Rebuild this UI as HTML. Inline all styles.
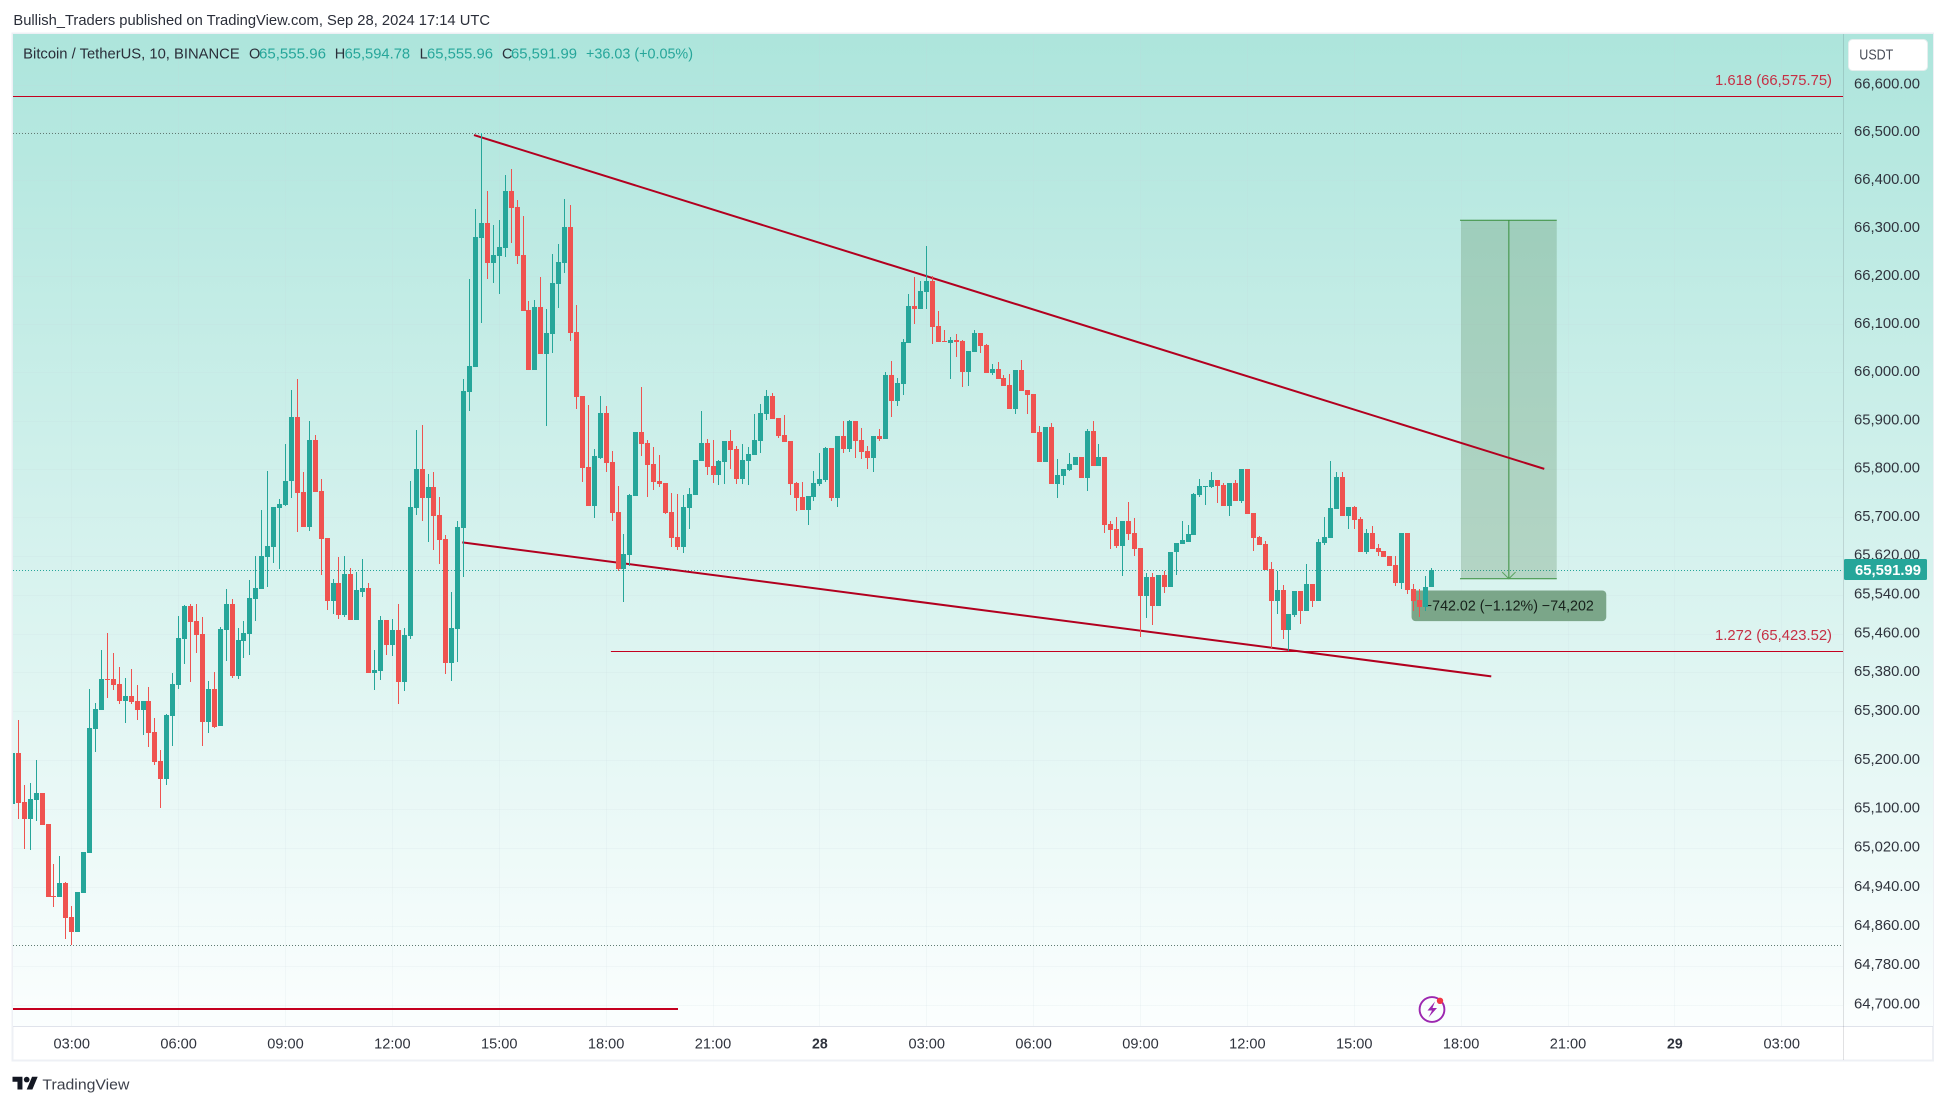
<!DOCTYPE html>
<html lang="en">
<head>
<meta charset="utf-8">
<title>BTCUSDT 10m chart</title>
<style>
html,body{margin:0;padding:0;background:#fff;}
svg{display:block;}
text{font-family:"Liberation Sans",sans-serif;}
</style>
</head>
<body>
<svg id="chart" xmlns="http://www.w3.org/2000/svg" width="1946" height="1105" viewBox="0 0 1946 1105">
  <defs>
    <linearGradient id="bgGrad" x1="0" y1="34" x2="0" y2="1026" gradientUnits="userSpaceOnUse">
      <stop offset="0" stop-color="#ade5dc"/>
      <stop offset="1" stop-color="#fbfefe"/>
    </linearGradient>
    <clipPath id="paneClip"><rect x="13" y="34" width="1830" height="992"/></clipPath>
  </defs>
  <rect x="0" y="0" width="1946" height="1105" fill="#ffffff"/>
  <text x="13.4" y="25" font-size="14.5" fill="#2a2e39" textLength="476.6" lengthAdjust="spacingAndGlyphs">Bullish_Traders published on TradingView.com, Sep 28, 2024 17:14 UTC</text>

  <rect x="12.5" y="33.5" width="1920.5" height="1027" fill="#ffffff" stroke="#eef0f5" stroke-width="2"/>
  <rect x="13" y="34" width="1920" height="992" fill="url(#bgGrad)"/>

  <g id="gridLayer"></g>

  <g clip-path="url(#paneClip)">
    <g id="drawLayer"></g>
    <g id="candleLayer"></g>
  </g>

  <line x1="13" x2="1933" y1="1026.5" y2="1026.5" stroke="#e0e3eb" stroke-width="1"/>
  <line x1="1843.5" x2="1843.5" y1="34" y2="1060" stroke="#2a2e39" stroke-opacity="0.14" stroke-width="1"/>

  <g id="axisLayer"></g>

  <rect x="1844" y="559" width="83" height="21" rx="1.5" fill="#26a69a"/>
  <text x="1855" y="575" font-size="14.5" font-weight="bold" fill="#ffffff" textLength="66" lengthAdjust="spacingAndGlyphs">65,591.99</text>

  <rect x="1848.5" y="39.5" width="79" height="31" rx="4" fill="#ffffff" stroke="#e6eeee"/>
  <text x="1859.3" y="59.5" font-size="14.5" fill="#4a4e59" textLength="34" lengthAdjust="spacingAndGlyphs">USDT</text>

  <g font-size="14.5">
    <text x="23.2" y="58.5" fill="#2a2e39" textLength="216.5" lengthAdjust="spacingAndGlyphs">Bitcoin / TetherUS, 10, BINANCE</text>
    <text x="249" y="58.5" fill="#2a2e39">O</text>
    <text x="259" y="58.5" fill="#26a69a" textLength="67" lengthAdjust="spacingAndGlyphs">65,555.96</text>
    <text x="334.8" y="58.5" fill="#2a2e39">H</text>
    <text x="344.6" y="58.5" fill="#26a69a" textLength="65.5" lengthAdjust="spacingAndGlyphs">65,594.78</text>
    <text x="419.6" y="58.5" fill="#2a2e39">L</text>
    <text x="427" y="58.5" fill="#26a69a" textLength="66" lengthAdjust="spacingAndGlyphs">65,555.96</text>
    <text x="502" y="58.5" fill="#2a2e39">C</text>
    <text x="511" y="58.5" fill="#26a69a" textLength="66" lengthAdjust="spacingAndGlyphs">65,591.99</text>
    <text x="586" y="58.5" fill="#26a69a" textLength="107" lengthAdjust="spacingAndGlyphs">+36.03 (+0.05%)</text>
  </g>

  <g>
    <circle cx="1432" cy="1009.5" r="12.4" fill="none" stroke="#9c27b0" stroke-width="1.9"/>
    <path d="M1435 1001.5 L1427.5 1010.5 L1432 1010.5 L1428.5 1017.5 L1437 1008 L1432.5 1008 Z" fill="#9c27b0"/>
    <circle cx="1440" cy="1000.8" r="3.2" fill="#f23645"/>
  </g>

  <g>
    <g transform="translate(12.5 1073.9) scale(0.71)">
      <path d="M14 22H7V11H0V4h14v18zM28 22h-8l7.5-18h8L28 22z" fill="#131722"/>
      <circle cx="20" cy="8" r="4" fill="#131722"/>
    </g>
    <text x="42.4" y="1089.5" font-size="15" fill="#3b3f4a" textLength="87" lengthAdjust="spacingAndGlyphs">TradingView</text>
  </g>
</svg>

<script>
const opens = [65110,65215,65114,65079,65118,65133,65069,64922,64920,64949,
64879,64849,64928,65010,65264,65303,65366,65366,65356,65321,
65331,65321,65303,65321,65258,65198,65161,65290,65354,65449,
65517,65486,65459,65278,65346,65270,65467,65521,65373,65445,
65459,65531,65552,65618,65639,65719,65725,65775,65907,65752,
65680,65860,65754,65657,65527,65564,65498,65583,65488,65546,
65554,65379,65383,65488,65436,65467,65360,65455,65719,65800,
65740,65762,65705,65655,65399,65469,65678,65959,66011,66280,
66311,66228,66242,66259,66378,66344,66244,66130,66005,66136,
66038,66080,66184,66228,66302,66084,65951,65804,65723,65823,
65915,65814,65711,65593,65622,65744,65876,65854,65810,65775,
65771,65711,65659,65638,65719,65746,65816,65854,65806,65787,
65814,65858,65841,65779,65816,65829,65858,65913,65951,65905,
65870,65858,65771,65742,65715,65742,65769,65777,65843,65740,
65868,65841,65899,65860,65837,65823,65868,65862,65995,65941,
65976,66061,66138,66132,66167,66190,66096,66065,66061,66067,
66065,66001,66042,66082,66057,65999,66007,65988,65973,65924,
66005,65963,65955,65876,65814,65887,65769,65785,65798,65808,
65825,65781,65878,65806,65825,65686,65676,65641,65692,65667,
65636,65537,65577,65517,65581,65556,65628,65645,65649,65663,
65746,65762,65762,65777,65767,65723,65771,65733,65800,65709,
65659,65645,65593,65527,65550,65467,65498,65548,65507,65562,
65527,65647,65657,65717,65783,65702,65721,65696,65628,65667,
65636,65630,65620,65601,65564,65667,65552,65529,65515,65555.96];

const highs = [65215,65282,65149,65153,65200,65133,65069,64987,65004,64950,
64901,64930,65012,65345,65317,65426,65461,65420,65391,65368,
65387,65354,65321,65350,65286,65221,65295,65379,65496,65519,
65521,65521,65494,65362,65381,65474,65552,65531,65471,65486,
65570,65620,65715,65796,65721,65738,65852,65963,65986,65793,
65899,65870,65779,65657,65572,65618,65620,65595,65587,65614,
65564,65426,65496,65488,65490,65521,65471,65775,65881,65891,
65789,65793,65742,65663,65546,65692,65986,66194,66340,66499,
66378,66307,66317,66411,66424,66359,66325,66148,66150,66198,
66132,66246,66267,66361,66348,66140,65951,65932,65841,65951,
65930,65837,65764,65665,65748,65876,65969,65860,65845,65829,
65771,65750,65748,65746,65760,65818,65920,65862,65860,65818,
65858,65881,65847,65852,65845,65913,65934,65963,65957,65905,
65911,65858,65773,65773,65744,65796,65833,65845,65843,65868,
65899,65901,65899,65885,65847,65868,65883,66001,66024,65988,
66069,66163,66198,66190,66263,66200,66128,66088,66073,66080,
66067,66044,66088,66082,66059,66017,66022,65995,65997,66005,
66026,65963,65955,65889,65887,65895,65820,65800,65833,65825,
65825,65883,65899,65852,65825,65692,65700,65692,65731,65698,
65636,65585,65585,65581,65589,65628,65647,65692,65684,65750,
65779,65764,65793,65777,65771,65771,65777,65800,65800,65709,
65661,65651,65608,65589,65560,65500,65548,65548,65603,65562,
65655,65700,65816,65793,65793,65721,65723,65700,65676,65682,
65645,65630,65620,65620,65667,65667,65562,65552,65579,65594.78];

const lows = [65110,65079,65018,65016,65075,65067,64920,64899,64920,64834,
64822,64849,64928,65010,65217,65303,65327,65344,65315,65276,
65315,65282,65252,65227,65190,65102,65149,65229,65346,65397,
65360,65420,65229,65256,65266,65270,65403,65369,65366,65410,
65416,65486,65552,65556,65606,65593,65723,65740,65669,65680,
65672,65752,65581,65509,65500,65490,65494,65488,65488,65535,
65379,65344,65364,65416,65414,65315,65342,65449,65705,65692,
65649,65632,65603,65377,65362,65401,65577,65920,66011,66103,
66194,66186,66163,66240,66269,66225,66128,66005,66005,66038,
65889,66040,66134,66207,66065,65924,65773,65723,65698,65821,
65793,65692,65589,65525,65599,65744,65827,65742,65756,65762,
65707,65638,65632,65626,65676,65746,65816,65787,65771,65767,
65769,65800,65769,65769,65767,65829,65833,65901,65903,65864,
65856,65746,65713,65715,65684,65733,65764,65773,65733,65721,
65833,65835,65823,65821,65800,65793,65858,65862,65907,65930,
65953,66061,66101,66132,66132,66059,66063,66063,65986,66032,
65969,65971,66042,66040,65999,65995,65986,65971,65924,65913,
65961,65913,65874,65814,65814,65769,65740,65767,65796,65808,
65781,65754,65806,65806,65667,65634,65636,65579,65653,65620,
65453,65492,65478,65517,65544,65556,65581,65645,65649,65663,
65742,65725,65760,65729,65723,65702,65733,65729,65707,65630,
65643,65591,65430,65500,65449,65424,65494,65480,65507,65515,
65527,65643,65657,65717,65702,65676,65676,65628,65624,65634,
65620,65618,65599,65558,65552,65542,65507,65494,65507,65555.96];

const closes = [65215,65112,65079,65120,65133,65067,64920,64920,64949,64877,
64849,64930,65012,65266,65304,65366,65364,65354,65321,65331,
65319,65303,65321,65256,65196,65161,65293,65356,65451,65517,
65484,65457,65278,65346,65268,65469,65521,65373,65447,65461,
65533,65554,65620,65641,65721,65727,65775,65907,65750,65680,
65860,65752,65655,65527,65564,65498,65583,65488,65550,65554,
65379,65385,65488,65436,65467,65360,65457,65721,65800,65740,
65762,65702,65653,65399,65471,65680,65961,66013,66282,66311,
66228,66244,66261,66378,66342,66242,66128,66005,66136,66038,
66082,66186,66230,66302,66082,65949,65802,65723,65827,65915,
65812,65709,65593,65624,65746,65876,65852,65808,65773,65769,
65709,65657,65638,65721,65748,65818,65854,65804,65787,65816,
65858,65839,65779,65818,65831,65860,65915,65951,65903,65868,
65856,65769,65740,65715,65744,65771,65779,65843,65740,65868,
65841,65899,65858,65835,65823,65868,65862,65995,65941,65978,
66063,66138,66132,66169,66190,66094,66063,66063,66067,66063,
66001,66044,66082,66055,65999,66007,65986,65971,65924,66005,
65961,65953,65874,65814,65887,65769,65787,65800,65810,65825,
65781,65878,65806,65825,65684,65674,65641,65692,65665,65634,
65537,65577,65517,65581,65556,65628,65647,65653,65665,65748,
65764,65764,65777,65764,65723,65771,65733,65800,65707,65657,
65643,65591,65527,65550,65467,65500,65548,65507,65562,65527,
65649,65659,65719,65783,65702,65721,65694,65628,65667,65634,
65628,65618,65599,65564,65667,65550,65527,65515,65556,65591.99];

const priceTicks = [66600,66500,66400,66300,66200,66100,66000,65900,65800,65700,65620,65540,65460,65380,65300,65200,65100,65020,64940,64860,64780,64700];
const timeTickLabels = ["03:00","06:00","09:00","12:00","15:00","18:00","21:00","28","03:00","06:00","09:00","12:00","15:00","18:00","21:00","29","03:00"];
const fibLevels = [66575.75, 65423.52];
const fibLabels = ["1.618 (66,575.75)", "1.272 (65,423.52)"];
const dottedLevels = [66498.5, 65591.99, 64821];
const upperTrendBars = [77.74, 258];
const upperTrendPrices = [66494.7, 65800];
const lowerTrendBars = [75.77, 249.07];
const lowerTrendPrices = [65648, 65372];
const floorLineBars = [-0.1, 112.1];
const floorLinePrice = 64691.4;
const rangeBars = [243.97, 260.1];
const rangePrices = [66316.6, 65573];
const rangeLabel = "\u2212742.02 (\u22121.12%) \u221274,202";

const SVGNS = "http://www.w3.org/2000/svg";
const priceY = p => 96.3 + 31789 * Math.log(66575.75 / p);
const barX = i => 12.4 + 5.9375 * i;

function make(tag, parent, attrs) {
  const el = document.createElementNS(SVGNS, tag);
  for (const k in attrs) el.setAttribute(k, attrs[k]);
  parent.appendChild(el);
  return el;
}

const grid = document.getElementById("gridLayer");
const axes = document.getElementById("axisLayer");
const draw = document.getElementById("drawLayer");
const candles = document.getElementById("candleLayer");

/* grid + price axis */
priceTicks.forEach(p => {
  const y = priceY(p);
  const g = make("line", grid, {x1: 13, x2: 1843, y1: Math.round(y) + 0.5, y2: Math.round(y) + 0.5, stroke: "#c8d4dc", "stroke-opacity": 0.14});
  
  
  const t = make("text", axes, {x: 1854, y: y + 3.7, "font-size": 14.5, fill: "#2f333d", textLength: 66, lengthAdjust: "spacingAndGlyphs"});
  t.textContent = p.toLocaleString("en-US", {minimumFractionDigits: 2, maximumFractionDigits: 2});
  
  
});

/* grid + time axis */
timeTickLabels.forEach((label, k) => {
  const x = barX(10 + 18 * k);
  const g = make("line", grid, {x1: Math.floor(x) + 0.5, x2: Math.floor(x) + 0.5, y1: 34, y2: 1026, stroke: "#c8d4dc", "stroke-opacity": 0.14});
  
  
  const bold = label.length === 2;
  const w = bold ? 15.7 : 36.5;
  const t = make("text", axes, {x: x - w / 2, y: 1048.5, "font-size": 14.5, fill: "#2f333d", "font-weight": bold ? "bold" : "normal", textLength: w, lengthAdjust: "spacingAndGlyphs"});
  t.textContent = label;
  
  
});

/* dotted price levels */
dottedLevels.forEach((p, i) => {
  const y = Math.round(priceY(p)) + 0.5;
  const l = make("line", draw, {x1: 13, x2: 1843, y1: y, y2: y, stroke: i === 1 ? "#26a69a" : "#5f7a72", "stroke-width": 1, "stroke-dasharray": "1 2"});
  
  
});

/* fibonacci extension lines */
const fibStartBars = [-1, 100.8];
fibLevels.forEach((p, i) => {
  const y = Math.round(priceY(p)) + 0.5;
  const l = make("line", draw, {x1: barX(fibStartBars[i]), x2: 1843, y1: y, y2: y, stroke: "#c4001f", "stroke-width": 1});
  
  
  const t = make("text", draw, {x: 1715, y: y - 11.5, "font-size": 14.5, fill: "#c62f44", textLength: 117, lengthAdjust: "spacingAndGlyphs"});
  t.textContent = fibLabels[i];
  
  
});

/* bottom red segment */
const floorLine = make("line", draw, {x1: barX(floorLineBars[0]), x2: barX(floorLineBars[1]), y1: priceY(floorLinePrice), y2: priceY(floorLinePrice), stroke: "#c4001f", "stroke-width": 2});



/* forecast range tool */
const rx1 = barX(rangeBars[0]), rx2 = barX(rangeBars[1]);
const ry1 = priceY(rangePrices[0]), ry2 = priceY(rangePrices[1]);
const rmid = (rx1 + rx2) / 2;
const rangeRect = make("rect", draw, {x: rx1, y: ry1, width: rx2 - rx1, height: ry2 - ry1, fill: "rgb(70,124,70)", "fill-opacity": 0.25});


const rangeTop = make("line", draw, {x1: rx1 - 1, x2: rx2, y1: ry1, y2: ry1, stroke: "#388e3c", "stroke-width": 1});


const rangeBottom = make("line", draw, {x1: rx1 - 1, x2: rx2, y1: ry2, y2: ry2, stroke: "#388e3c", "stroke-width": 1});


const rangeShaft = make("line", draw, {x1: rmid, x2: rmid, y1: ry1, y2: ry2, stroke: "#388e3c", "stroke-width": 1});


const rangeHead = make("path", draw, {d: `M${rmid - 6.7} ${ry2 - 6.7} L${rmid} ${ry2} L${rmid + 6.7} ${ry2 - 6.7}`, fill: "none", stroke: "#5aa35e", "stroke-width": 1});


const rangeBox = make("rect", draw, {x: rmid - 97.3, y: ry2 + 11.7, width: 194.7, height: 30.7, rx: 4, fill: "#7ba689"});


const rangeText = make("text", draw, {x: rmid - 85, y: ry2 + 32, "font-size": 14.5, fill: "#16201a", textLength: 170, lengthAdjust: "spacingAndGlyphs"});
rangeText.textContent = rangeLabel;



/* trend lines */
const upperTrend = make("line", draw, {x1: barX(upperTrendBars[0]), y1: priceY(upperTrendPrices[0]), x2: barX(upperTrendBars[1]), y2: priceY(upperTrendPrices[1]), stroke: "#b2001f", "stroke-width": 2});


const lowerTrend = make("line", draw, {x1: barX(lowerTrendBars[0]), y1: priceY(lowerTrendPrices[0]), x2: barX(lowerTrendBars[1]), y2: priceY(lowerTrendPrices[1]), stroke: "#b2001f", "stroke-width": 2});



/* candles */
opens.forEach((o, i) => {
  const c = closes[i];
  const up = c >= o;
  const color = up ? "#26a69a" : "#ef5350";
  const px = Math.floor(barX(i));
  const wy1 = Math.round(priceY(highs[i]));
  const wy2 = Math.round(priceY(lows[i]));
  const by1 = Math.round(priceY(Math.max(o, c)));
  const by2 = Math.round(priceY(Math.min(o, c)));
  const wick = make("rect", candles, {x: px, y: wy1, width: 1, height: Math.max(1, wy2 - wy1), fill: color});
  
  
  const body = make("rect", candles, {x: px - 2, y: by1, width: 5, height: Math.max(1, by2 - by1), fill: color});
  
  
});
</script>
</body>
</html>
